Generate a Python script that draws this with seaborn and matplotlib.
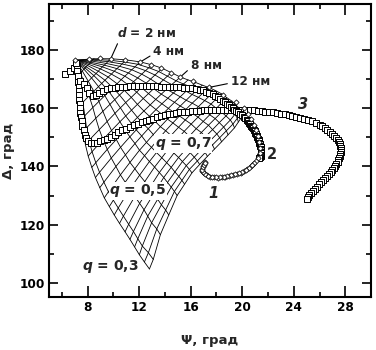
import matplotlib
matplotlib.use("Agg")
import matplotlib.pyplot as plt
import pandas as pd
import seaborn as sns
from matplotlib.ticker import MultipleLocator

sns.set_theme(style="ticks")
plt.rcParams['font.family'] = ['DejaVu Sans']
plt.rcParams['font.weight'] = 'bold'
plt.rcParams['mathtext.fontset'] = 'custom'
plt.rcParams['mathtext.it'] = 'DejaVu Sans:bold:italic'
plt.rcParams['mathtext.rm'] = 'DejaVu Sans:bold'

# ---- nomogram: film thickness d (nm) and fill factor q ----
D_VALUES = list(range(21))
Q_VALUES = [0.3, 0.35, 0.4, 0.45, 0.5, 0.55, 0.6, 0.65, 0.7, 0.75, 0.8, 0.85, 0.9, 0.95, 1.0]

MESH_PSI = {
    0.3: [7.05, 7.20, 7.34, 7.46, 7.57, 7.67, 7.83, 8.05, 8.33, 8.61, 8.95, 9.30, 9.69, 10.07, 10.48, 10.91, 11.29, 11.65, 12.02, 12.41, 12.80],
    0.35: [7.05, 7.27, 7.46, 7.63, 7.79, 7.92, 8.11, 8.35, 8.64, 8.93, 9.27, 9.62, 10.00, 10.38, 10.78, 11.19, 11.56, 11.90, 12.25, 12.72, 13.10],
    0.4: [7.05, 7.45, 7.80, 8.12, 8.41, 8.64, 8.91, 9.20, 9.53, 9.84, 10.20, 10.55, 10.92, 11.28, 11.67, 12.04, 12.38, 12.67, 12.97, 13.37, 13.65],
    0.45: [7.05, 7.59, 8.06, 8.49, 8.88, 9.19, 9.52, 9.86, 10.23, 10.56, 10.94, 11.29, 11.67, 12.04, 12.44, 12.81, 13.15, 13.44, 13.73, 14.06, 14.30],
    0.5: [7.05, 7.72, 8.31, 8.85, 9.34, 9.74, 10.13, 10.51, 10.92, 11.28, 11.68, 12.03, 12.42, 12.80, 13.20, 13.57, 13.91, 14.20, 14.49, 14.74, 14.95],
    0.55: [7.05, 7.81, 8.49, 9.10, 9.66, 10.11, 10.55, 10.96, 11.40, 11.78, 12.20, 12.57, 12.96, 13.35, 13.76, 14.14, 14.49, 14.78, 15.08, 15.32, 15.53],
    0.6: [7.05, 7.90, 8.66, 9.35, 9.97, 10.48, 10.96, 11.41, 11.87, 12.28, 12.71, 13.10, 13.50, 13.90, 14.31, 14.70, 15.06, 15.36, 15.66, 15.90, 16.10],
    0.65: [7.05, 7.99, 8.83, 9.60, 10.29, 10.86, 11.39, 11.87, 12.37, 12.80, 13.25, 13.65, 14.06, 14.48, 14.91, 15.30, 15.67, 15.97, 16.28, 16.52, 16.70],
    0.7: [7.05, 8.08, 9.00, 9.85, 10.61, 11.24, 11.81, 12.32, 12.86, 13.31, 13.79, 14.20, 14.62, 15.06, 15.50, 15.89, 16.27, 16.58, 16.90, 17.13, 17.30],
    0.75: [7.05, 8.16, 9.15, 10.07, 10.89, 11.57, 12.18, 12.73, 13.29, 13.77, 14.27, 14.70, 15.13, 15.58, 16.04, 16.43, 16.83, 17.14, 17.47, 17.69, 17.85],
    0.8: [7.05, 8.24, 9.30, 10.28, 11.17, 11.89, 12.55, 13.13, 13.72, 14.23, 14.74, 15.19, 15.64, 16.10, 16.57, 16.97, 17.38, 17.70, 18.03, 18.25, 18.40],
    0.85: [7.05, 8.31, 9.44, 10.48, 11.43, 12.20, 12.89, 13.51, 14.13, 14.66, 15.19, 15.65, 16.12, 16.60, 17.08, 17.48, 17.90, 18.22, 18.56, 18.77, 18.90],
    0.9: [7.05, 8.38, 9.58, 10.67, 11.68, 12.50, 13.23, 13.88, 14.53, 15.08, 15.64, 16.11, 16.60, 17.09, 17.58, 17.99, 18.41, 18.74, 19.08, 19.28, 19.40],
    0.95: [7.05, 8.44, 9.69, 10.84, 11.89, 12.75, 13.52, 14.19, 14.87, 15.44, 16.02, 16.51, 17.00, 17.50, 17.99, 18.40, 18.81, 19.12, 19.44, 19.62, 19.70],
    1.0: [7.05, 8.50, 9.80, 11.00, 12.10, 13.00, 13.80, 14.50, 15.20, 15.80, 16.40, 16.90, 17.40, 17.90, 18.40, 18.80, 19.20, 19.50, 19.80, 19.95, 20.00],
}
MESH_DELTA = {
    0.3: [176.6, 171.1, 166.0, 161.3, 156.5, 152.1, 147.6, 143.6, 139.7, 136.2, 132.7, 129.2, 126.2, 123.3, 120.4, 117.5, 114.9, 112.3, 109.6, 107.1, 104.7],
    0.35: [176.6, 171.4, 166.6, 162.1, 157.5, 153.3, 149.0, 145.1, 141.3, 138.0, 134.6, 131.3, 128.4, 125.7, 122.9, 120.1, 117.6, 115.1, 112.6, 110.3, 108.0],
    0.4: [176.6, 172.2, 168.1, 164.3, 160.3, 156.6, 152.7, 149.3, 145.9, 142.9, 140.0, 137.1, 134.6, 132.2, 129.7, 127.3, 125.1, 122.9, 120.6, 118.5, 116.5],
    0.45: [176.6, 172.9, 169.3, 165.9, 162.4, 159.0, 155.5, 152.4, 149.3, 146.6, 144.0, 141.4, 139.2, 137.0, 134.8, 132.6, 130.7, 128.7, 126.8, 125.0, 123.3],
    0.5: [176.6, 173.5, 170.5, 167.5, 164.4, 161.4, 158.3, 155.4, 152.6, 150.2, 147.9, 145.6, 143.7, 141.7, 139.8, 137.9, 136.2, 134.5, 132.9, 131.4, 130.0],
    0.55: [176.6, 173.9, 171.3, 168.6, 165.8, 163.0, 160.2, 157.4, 154.8, 152.6, 150.5, 148.3, 146.6, 144.8, 143.0, 141.3, 139.7, 138.1, 136.6, 135.2, 133.9],
    0.6: [176.6, 174.3, 172.0, 169.7, 167.1, 164.6, 162.0, 159.4, 156.9, 154.9, 153.0, 151.0, 149.5, 147.9, 146.2, 144.6, 143.1, 141.7, 140.3, 139.0, 137.8],
    0.65: [176.6, 174.8, 172.8, 170.8, 168.5, 166.2, 163.8, 161.4, 159.1, 157.3, 155.5, 153.7, 152.3, 150.7, 149.2, 147.5, 146.1, 144.7, 143.2, 141.9, 140.7],
    0.7: [176.6, 175.2, 173.6, 171.8, 169.9, 167.8, 165.6, 163.4, 161.2, 159.6, 157.9, 156.3, 155.0, 153.5, 152.1, 150.4, 149.1, 147.6, 146.1, 144.8, 143.5],
    0.75: [176.6, 175.6, 174.3, 172.8, 171.1, 169.2, 167.2, 165.1, 163.1, 161.6, 160.0, 158.6, 157.4, 156.0, 154.6, 153.0, 151.7, 150.2, 148.7, 147.4, 146.0],
    0.8: [176.6, 175.9, 174.9, 173.7, 172.2, 170.5, 168.7, 166.8, 164.9, 163.5, 162.1, 160.8, 159.7, 158.4, 157.0, 155.5, 154.2, 152.7, 151.2, 149.9, 148.5],
    0.85: [176.6, 176.3, 175.5, 174.5, 173.3, 171.8, 170.1, 168.3, 166.6, 165.3, 164.0, 162.8, 161.8, 160.6, 159.3, 157.8, 156.5, 155.1, 153.6, 152.3, 150.9],
    0.9: [176.6, 176.6, 176.1, 175.3, 174.3, 173.0, 171.5, 169.8, 168.2, 167.0, 165.9, 164.8, 163.8, 162.7, 161.5, 160.0, 158.7, 157.4, 156.0, 154.6, 153.3],
    0.95: [176.6, 176.9, 176.6, 176.0, 175.2, 174.0, 172.7, 171.1, 169.5, 168.4, 167.4, 166.4, 165.5, 164.5, 163.3, 161.9, 160.6, 159.3, 158.0, 156.6, 155.3],
    1.0: [176.6, 177.1, 177.1, 176.7, 176.0, 175.0, 173.8, 172.3, 170.8, 169.8, 168.9, 168.0, 167.2, 166.2, 165.0, 163.7, 162.5, 161.2, 159.9, 158.6, 157.3],
}

# ---- measured trajectories ----
PSI_1 = [7.05, 8.1, 9.0, 9.8, 10.9, 12.1, 12.9, 13.7, 14.5, 15.2, 16.2, 17.4, 18.5, 19.5, 20.1, 20.45, 20.7, 20.9, 21.05, 21.2,
         21.3, 21.4, 21.35, 21.2, 21.05, 20.85, 20.65, 20.4, 20.15, 19.9, 19.6, 19.3, 19.0, 18.7, 18.4, 18.1, 17.8, 17.5, 17.25, 17.05,
         16.9, 16.9, 16.95, 17.05, 17.15,
         20.95, 20.75, 20.52, 20.27, 20.02, 19.75, 19.45, 19.15, 18.85, 18.55, 18.25, 17.95, 17.65, 17.37, 17.15, 16.97, 16.88, 16.92, 17.0, 17.1]
DELTA_1 = [176.6, 177.0, 177.2, 177.1, 176.8, 176.0, 175.0, 173.8, 172.3, 170.8, 169.3, 167.2, 164.6, 162.3, 160.0, 158.2, 156.3, 154.3, 152.4, 150.4,
           148.4, 146.4, 144.6, 143.0, 141.8, 140.8, 140.0, 139.2, 138.5, 137.9, 137.5, 137.1, 136.8, 136.5, 136.3, 136.2, 136.3, 136.5, 137.0, 137.7,
           138.5, 139.3, 140.1, 140.9, 141.6,
           141.3, 140.4, 139.6, 138.85, 138.2, 137.7, 137.3, 136.95, 136.65, 136.4, 136.25, 136.25, 136.4, 136.75, 137.35, 138.1, 138.9, 139.7, 140.5, 141.25]

PSI_2 = [7.10, 7.15, 7.25, 7.45, 7.70, 7.95, 8.15, 8.40, 8.65, 8.90, 9.20, 9.50, 9.80, 10.10, 10.40, 10.70, 11.00, 11.30, 11.60, 11.90,
         12.20, 12.50, 12.80, 13.10, 13.40, 13.70, 14.00, 14.30, 14.60, 14.90, 15.20, 15.50, 15.80, 16.10, 16.40, 16.70, 16.95, 17.20, 17.45, 17.70,
         17.90, 18.10, 18.30, 18.50, 18.65, 18.80, 18.95, 19.10, 19.25, 19.40, 19.55, 19.70, 19.85, 20.00, 20.15, 20.25, 20.35, 20.45, 20.53, 20.60,
         20.68, 20.76, 20.83, 20.90, 20.96, 21.02, 21.08, 21.13, 21.18, 21.23, 21.27, 21.31, 21.34, 21.37, 21.40, 21.42, 21.44, 21.45, 21.45, 21.45,
         21.44, 21.42, 21.38, 21.33]
DELTA_2 = [175.5, 173.0, 171.0, 169.5, 168.3, 167.0, 165.3, 164.4, 164.6, 165.4, 166.1, 166.6, 166.9, 167.1, 167.3, 167.4, 167.5, 167.6, 167.6, 167.6,
           167.6, 167.6, 167.6, 167.6, 167.6, 167.5, 167.5, 167.4, 167.4, 167.3, 167.2, 167.1, 167.0, 166.9, 166.7, 166.5, 166.2, 165.8, 165.3, 164.8,
           164.3, 163.8, 163.2, 162.6, 162.1, 161.6, 161.1, 160.6, 160.1, 159.6, 159.1, 158.6, 158.1, 157.6, 157.1, 156.6, 156.1, 155.6, 155.1, 154.6,
           154.1, 153.6, 153.1, 152.6, 152.1, 151.6, 151.1, 150.6, 150.1, 149.6, 149.1, 148.6, 148.1, 147.6, 147.1, 146.6, 146.1, 145.6, 145.1, 144.6,
           144.1, 143.6, 143.2, 142.8]

PSI_3 = [6.27, 6.60, 6.95, 7.20, 7.25, 7.25, 7.25, 7.30, 7.30, 7.35, 7.35, 7.40, 7.40, 7.45, 7.50, 7.55, 7.60, 7.70, 7.80, 7.90,
         8.05, 8.25, 8.50, 8.75, 9.00, 9.25, 9.50, 9.80, 10.10, 10.40, 10.70, 11.00, 11.30, 11.60, 11.90, 12.20, 12.50, 12.80, 13.10, 13.40,
         13.70, 14.00, 14.30, 14.60, 14.90, 15.20, 15.50, 15.80, 16.10, 16.40, 16.70, 17.00, 17.30, 17.60, 17.90, 18.20, 18.50, 18.80, 19.10, 19.40,
         19.70, 20.00, 20.30, 20.60, 20.90, 21.20, 21.50, 21.80, 22.10, 22.40, 22.70, 23.00, 23.30, 23.60, 23.90, 24.20, 24.50, 24.80, 25.10, 25.40,
         25.70, 26.00, 26.20, 26.40, 26.60, 26.80, 27.00, 27.15, 27.30, 27.40, 27.50, 27.55, 27.60, 27.65, 27.65, 27.65, 27.60, 27.55, 27.50, 27.45,
         27.40, 27.30, 27.20, 27.10, 27.00, 26.85, 26.70, 26.55, 26.40, 26.25, 26.10, 25.95, 25.80, 25.65, 25.50, 25.35, 25.20, 25.10, 25.00]
DELTA_3 = [172.0, 172.9, 173.9, 174.5, 172.0, 170.5, 169.0, 167.5, 166.0, 164.5, 163.0, 161.5, 160.0, 158.5, 157.0, 155.5, 154.0, 152.5, 151.0, 149.8,
           148.8, 148.2, 148.0, 148.2, 148.6, 149.1, 149.6, 150.3, 151.0, 151.7, 152.4, 153.0, 153.6, 154.2, 154.7, 155.2, 155.7, 156.1, 156.5, 156.9,
           157.3, 157.6, 157.9, 158.2, 158.4, 158.6, 158.8, 158.9, 159.0, 159.1, 159.2, 159.3, 159.4, 159.4, 159.5, 159.5, 159.5, 159.5, 159.5, 159.5,
           159.5, 159.5, 159.4, 159.4, 159.3, 159.2, 159.1, 158.9, 158.8, 158.6, 158.4, 158.2, 158.0, 157.8, 157.5, 157.2, 156.8, 156.4, 156.0, 155.5,
           155.0, 154.4, 153.9, 153.3, 152.7, 152.0, 151.3, 150.6, 149.9, 149.2, 148.5, 147.8, 147.1, 146.4, 145.7, 145.0, 144.3, 143.6, 142.9, 142.2,
           141.5, 140.8, 140.1, 139.4, 138.7, 138.0, 137.3, 136.6, 135.9, 135.2, 134.5, 133.8, 133.1, 132.4, 131.7, 131.0, 130.3, 129.6, 128.9]

D_LABELS = [2, 4, 8, 12]
Q_LABELS = [0.7, 0.5, 0.3]

# ---- long-form table of mesh nodes ----
rows = []
for q in Q_VALUES:
    for d, p, dl in zip(D_VALUES, MESH_PSI[q], MESH_DELTA[q]):
        rows.append({"q": q, "d": d, "psi": p, "delta": dl})
mesh = pd.DataFrame(rows)

fig = plt.figure(figsize=(3.76, 3.5), dpi=100)
ax = fig.add_axes([0.130, 0.151, 0.857, 0.838])

line_kw = dict(estimator=None, sort=False, color="black", linewidth=0.6, legend=False, ax=ax)
sns.lineplot(data=mesh.sort_values(["q", "d"]), x="psi", y="delta", units="q", **line_kw)
sns.lineplot(data=mesh[mesh.d > 0].sort_values(["d", "q"]), x="psi", y="delta", units="d", **line_kw)

sq = dict(marker="s", s=14, color="white", edgecolor="black", linewidth=0.7, legend=False, ax=ax, zorder=3)
sns.scatterplot(x=PSI_3, y=DELTA_3, **sq)
sns.scatterplot(x=PSI_2, y=DELTA_2, **sq)
sns.scatterplot(x=PSI_1, y=DELTA_1, marker="D", s=7, color="white", edgecolor="black",
                linewidth=0.55, legend=False, ax=ax, zorder=4)

# thickness labels on the q = 1 edge
top_psi, top_delta = MESH_PSI[1.0], MESH_DELTA[1.0]
d_text = {2: ((10.3, 185.8), (0.03, 0.0)), 4: ((13.1, 179.6), (0.0, 0.3)),
          8: ((16.0, 174.9), (0.0, 0.3)), 12: ((19.1, 169.4), (0.0, 0.35))}
for d in D_LABELS:
    (tx, ty), rel = d_text[d]
    txt = (r"$d$ = %d нм" % d) if d == 2 else "%d нм" % d
    ax.annotate(txt, xy=(top_psi[d], top_delta[d]), xytext=(tx, ty), ha="left", va="center",
                fontsize=8.7, fontweight="bold", zorder=6,
                arrowprops=dict(arrowstyle="-", lw=0.8, color="black", relpos=rel,
                                shrinkA=0, shrinkB=1.5))

q_pos = {0.7: (15.4, 147.9), 0.5: (11.9, 131.6), 0.3: (9.8, 105.6)}
for q in Q_LABELS:
    x, y = q_pos[q]
    ax.text(x, y, r"$q$ = " + ("%.1f" % q).replace(".", ","), ha="center", va="center",
            fontsize=10, fontweight="bold", zorder=6,
            bbox=dict(facecolor="white", edgecolor="none", pad=0.6))

ax.text(17.8, 130.8, "1", fontsize=10.5, fontweight="bold", fontstyle="italic", ha="center", va="center")
ax.text(22.3, 144.0, "2", fontsize=10.5, fontweight="bold", ha="center", va="center")
ax.text(24.7, 161.5, "3", fontsize=10.5, fontweight="bold", fontstyle="italic", ha="center", va="center")

ax.set_xlim(5, 30)
ax.set_ylim(95, 196)
ax.xaxis.set_minor_locator(MultipleLocator(2))
ax.set_xticks([8, 12, 16, 20, 24, 28])
ax.yaxis.set_major_locator(MultipleLocator(20))
ax.yaxis.set_minor_locator(MultipleLocator(10))
ax.tick_params(which="both", direction="in", top=True, right=True, width=1.2, colors="black",
               labelsize=8.7, pad=3)
ax.tick_params(axis="x", which="major", length=8)
ax.tick_params(axis="y", which="major", length=6.5)
ax.tick_params(which="minor", length=3.5)
for lab in ax.get_xticklabels() + ax.get_yticklabels():
    lab.set_fontweight("bold")
for sp in ax.spines.values():
    sp.set_linewidth(1.5)
    sp.set_color("black")

ax.set_xlabel("Ψ, град", fontsize=9.5, fontweight="bold", labelpad=14)
ax.set_ylabel("Δ, град", fontsize=9.5, fontweight="bold", labelpad=3)

fig.savefig("out.png", dpi=100, facecolor="white")
